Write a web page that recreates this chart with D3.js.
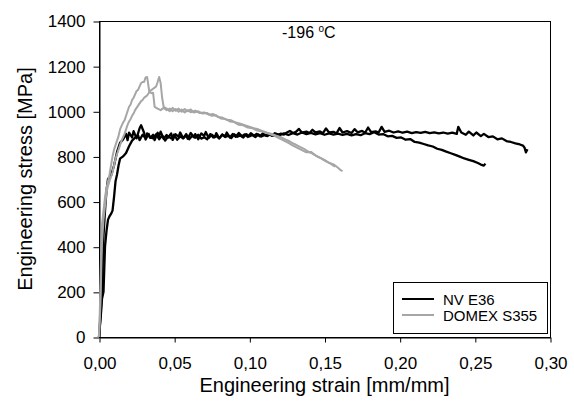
<!DOCTYPE html>
<html>
<head>
<meta charset="utf-8">
<script src="https://cdn.jsdelivr.net/npm/d3@7.9.0/dist/d3.min.js"></script>
<style>
  body { margin: 0; background: #fff; }
  svg { font-family: 'Liberation Sans', Arial, sans-serif; }
</style>
</head>
<body>
<svg id="chart" width="574" height="404"></svg>
<script>
// NV E36, two specimens [strain, stress]
const nvA = [
  [0,0],[0.001,90],[0.002,210],[0.0025,330],[0.003,450],[0.004,560],[0.005,650],[0.006,700],
  [0.008,715],[0.010,760],[0.012,820],[0.014,860],[0.016,875],[0.018,900],[0.019,872],[0.020,905],
  [0.022,884],[0.023,912],[0.025,880],[0.027,925],[0.028,938],[0.030,905],[0.031,875],[0.033,900],
  [0.034,882],[0.036,896],[0.037,872],[0.039,905],[0.040,890],[0.041,910],[0.043,878],[0.045,895],
  [0.046,884],[0.048,902],[0.049,873],[0.051,898],[0.053,888],[0.054,906],[0.056,880],[0.058,893],
  [0.059,878],[0.061,904],[0.063,886],[0.064,899],[0.066,876],[0.068,902],[0.070,891],[0.071,908],
  [0.073,882],[0.075,896],[0.077,885],[0.078,903],[0.080,880],[0.082,897],[0.084,889],[0.085,906],
  [0.087,884],[0.089,899],[0.091,887],[0.093,904],[0.095,890],[0.097,898],[0.099,886],[0.101,903],
  [0.103,892],[0.105,900],[0.107,889],[0.109,902],[0.111,893],[0.113,899],[0.115,891],[0.117,903],
  [0.119,896],[0.121,901],[0.123,897],[0.125,906],[0.127,913],[0.129,904],[0.131,909],[0.133,922],
  [0.135,905],[0.138,910],[0.140,904],[0.142,918],[0.144,907],[0.147,911],[0.149,903],[0.151,924],
  [0.153,906],[0.156,909],[0.158,902],[0.160,926],[0.162,906],[0.165,912],[0.168,904],[0.170,921],
  [0.172,907],[0.175,913],[0.177,905],[0.179,928],[0.181,908],[0.184,911],[0.186,906],[0.188,931],
  [0.190,909],[0.193,914],[0.196,906],[0.199,911],[0.202,905],[0.205,910],[0.208,903],[0.211,908],
  [0.214,904],[0.217,909],[0.220,903],[0.223,907],[0.226,902],[0.229,906],[0.232,901],[0.235,905],
  [0.238,900],[0.239,931],[0.241,906],[0.244,896],[0.246,910],[0.249,893],[0.251,906],[0.254,890],
  [0.256,900],[0.259,886],[0.262,889],[0.265,876],[0.268,880],[0.271,868],[0.274,864],[0.277,858],
  [0.280,853],[0.282,848],[0.283,840],[0.284,818],[0.285,832]
];
const nvB = [
  [0,0],[0.0015,120],[0.002,170],[0.003,200],[0.0035,300],[0.004,400],[0.005,470],[0.006,520],
  [0.007,535],[0.008,545],[0.009,560],[0.010,620],[0.011,690],[0.012,720],[0.013,760],[0.014,790],
  [0.016,800],[0.018,815],[0.020,845],[0.022,870],[0.024,883],[0.026,893],[0.027,872],[0.029,896],
  [0.031,880],[0.032,902],[0.034,885],[0.036,880],[0.038,898],[0.040,876],[0.042,893],[0.044,870],
  [0.046,889],[0.048,880],[0.050,897],[0.052,874],[0.054,888],[0.056,881],[0.058,899],[0.060,876],
  [0.062,892],[0.064,883],[0.066,896],[0.068,879],[0.070,885],[0.072,876],[0.074,899],[0.076,884],
  [0.078,890],[0.080,880],[0.082,896],[0.084,886],[0.086,892],[0.088,881],[0.090,898],[0.092,887],
  [0.094,893],[0.096,884],[0.098,899],[0.100,889],[0.102,895],[0.104,886],[0.106,897],[0.108,888],
  [0.110,894],[0.112,890],[0.114,898],[0.116,891],[0.118,900],[0.120,894],[0.123,902],[0.126,895],
  [0.129,903],[0.132,897],[0.135,906],[0.138,899],[0.141,904],[0.144,898],[0.147,903],[0.150,896],
  [0.153,902],[0.156,897],[0.159,901],[0.162,895],[0.165,900],[0.168,893],[0.171,899],[0.174,894],
  [0.177,903],[0.180,899],[0.183,907],[0.186,897],[0.189,899],[0.192,889],[0.195,891],[0.198,882],
  [0.201,884],[0.204,874],[0.207,877],[0.210,864],[0.213,861],[0.216,855],[0.219,849],[0.222,844],
  [0.225,834],[0.228,829],[0.231,821],[0.234,814],[0.237,807],[0.240,799],[0.243,791],[0.246,785],
  [0.249,779],[0.252,771],[0.254,764],[0.256,759],[0.257,768]
];

// DOMEX S355, two specimens
const domA = [
  [0,0],[0.0005,100],[0.001,250],[0.0015,400],[0.002,500],[0.003,560],[0.004,620],[0.005,660],
  [0.006,690],[0.007,720],[0.008,760],[0.009,800],[0.010,830],[0.011,850],[0.012,870],[0.013,890],
  [0.014,920],[0.015,935],[0.016,950],[0.017,960],[0.018,980],[0.019,1000],[0.020,1020],[0.021,1030],
  [0.022,1050],[0.023,1060],[0.024,1075],[0.025,1090],[0.026,1095],[0.027,1110],[0.028,1125],
  [0.029,1130],[0.030,1130],[0.031,1150],[0.032,1152],[0.0335,1085],[0.035,1080],[0.036,1082],
  [0.037,1020],[0.039,1012],[0.041,1005],[0.043,1015],[0.045,1005],[0.047,1012],[0.049,1000],
  [0.051,1010],[0.053,998],[0.055,1008],[0.057,995],[0.059,1005],[0.061,996],[0.064,1003],
  [0.067,992],[0.070,995],[0.073,985],[0.076,988],[0.079,975],[0.082,972],[0.085,962],[0.088,960],
  [0.091,950],[0.094,945],[0.097,938],[0.100,932],[0.103,925],[0.106,920],[0.109,912],[0.112,905],
  [0.115,900],[0.118,892],[0.121,885],[0.124,875],[0.127,866],[0.130,855],[0.133,845],[0.136,835],
  [0.139,822],[0.142,812],[0.145,800],[0.148,790],[0.151,778],[0.154,768],[0.157,755]
];
const domB = [
  [0,0],[0.001,150],[0.0015,300],[0.002,420],[0.003,520],[0.004,580],[0.005,640],[0.006,670],
  [0.007,690],[0.008,710],[0.009,730],[0.010,760],[0.011,790],[0.012,810],[0.013,830],[0.014,850],
  [0.015,870],[0.016,885],[0.017,900],[0.018,920],[0.019,940],[0.020,955],[0.021,965],[0.022,980],
  [0.023,990],[0.024,1005],[0.025,1015],[0.026,1025],[0.027,1035],[0.028,1045],[0.029,1050],
  [0.030,1060],[0.031,1065],[0.032,1070],[0.033,1080],[0.034,1090],[0.035,1095],[0.036,1100],
  [0.037,1105],[0.038,1110],[0.039,1130],[0.040,1152],[0.041,1125],[0.042,1060],[0.043,1020],
  [0.045,1012],[0.047,1000],[0.049,1015],[0.051,1002],[0.053,1012],[0.055,998],[0.057,1010],
  [0.059,1000],[0.061,1008],[0.063,995],[0.066,1000],[0.069,990],[0.072,992],[0.075,980],
  [0.078,982],[0.081,968],[0.084,966],[0.087,955],[0.090,952],[0.093,940],[0.096,938],[0.099,928],
  [0.102,925],[0.105,915],[0.108,912],[0.111,905],[0.114,898],[0.117,890],[0.120,880],[0.123,870],
  [0.126,860],[0.129,848],[0.132,838],[0.135,828],[0.138,818],[0.141,820],[0.144,805],[0.147,795],
  [0.150,785],[0.153,772],[0.156,765],[0.159,750],[0.161,738],[0.162,735]
];

const series = [
  { name: 'NV E36', color: '#000000', width: 2.3, curves: [nvA, nvB] },
  { name: 'DOMEX S355', color: '#a6a6a6', width: 2, curves: [domA, domB] }
];

const xTicks = [0, 0.05, 0.10, 0.15, 0.20, 0.25, 0.30];
const yTicks = [0, 200, 400, 600, 800, 1000, 1200, 1400];

const margin = { left: 99, right: 24, top: 21, bottom: 67 };
const width = 574, height = 404;

const svg = d3.select('#chart');

const x = d3.scaleLinear().domain([0, 0.30]).range([margin.left, width - margin.right]);
const y = d3.scaleLinear().domain([0, 1400]).range([height - margin.bottom, margin.top]);

const fmtX = d => d3.format('.2f')(d).replace('.', ',');

// frame
svg.append('rect')
  .attr('x', x(0) + 0.5).attr('y', y(1400) + 0.5)
  .attr('width', x(0.30) - x(0)).attr('height', y(0) - y(1400))
  .attr('fill', 'none').attr('stroke', '#000').attr('stroke-width', 1);

const xAxis = svg.append('g')
  .attr('transform', `translate(0.5,${y(0) + 0.5})`)
  .call(d3.axisBottom(x).tickValues(xTicks).tickFormat(fmtX).tickSize(5).tickPadding(14).tickSizeOuter(0));

const yAxis = svg.append('g')
  .attr('transform', `translate(${x(0) + 0.5},0.5)`)
  .call(d3.axisLeft(y).tickValues(yTicks).tickFormat(d3.format('d')).tickSize(6).tickPadding(8).tickSizeOuter(0));

[xAxis, yAxis].forEach(g => {
  g.selectAll('.domain, line').attr('stroke', '#000');
  g.selectAll('text').attr('fill', '#000').style('font-size', '17px');
});

// curves
const line = d3.line().x(d => x(d[0])).y(d => y(d[1]));

series.forEach(s => {
  s.curves.forEach(c => {
    svg.append('path')
      .datum(c)
      .attr('d', line)
      .attr('fill', 'none')
      .attr('stroke', s.color)
      .attr('stroke-width', s.width)
      .attr('stroke-linejoin', 'round');
  });
});

// axis titles
svg.append('text')
  .attr('x', (x(0) + x(0.30)) / 2).attr('y', 392)
  .attr('text-anchor', 'middle').style('font-size', '20px')
  .text('Engineering strain [mm/mm]');

svg.append('text')
  .attr('transform', `translate(32,${(y(0) + y(1400)) / 2}) rotate(-90)`)
  .attr('text-anchor', 'middle').style('font-size', '20px')
  .text('Engineering stress [MPa]');

// temperature label
const temp = svg.append('text').attr('x', 282).attr('y', 38).style('font-size', '16px');
temp.append('tspan').text('-196 ');
temp.append('tspan').attr('dy', -6).style('font-size', '10px').text('o');
temp.append('tspan').attr('dy', 6).text('C');

// legend
const legend = svg.append('g');
legend.append('rect')
  .attr('x', 393.5).attr('y', 282.5).attr('width', 154).attr('height', 51)
  .attr('fill', '#fff').attr('stroke', '#000');

series.forEach((s, i) => {
  const ly = 299 + i * 16;
  legend.append('line')
    .attr('x1', 402).attr('x2', 434).attr('y1', ly).attr('y2', ly)
    .attr('stroke', s.color).attr('stroke-width', 2);
  legend.append('text')
    .attr('x', 443).attr('y', ly + 5.5)
    .style('font-size', '15px')
    .text(s.name);
});
</script>
</body>
</html>
